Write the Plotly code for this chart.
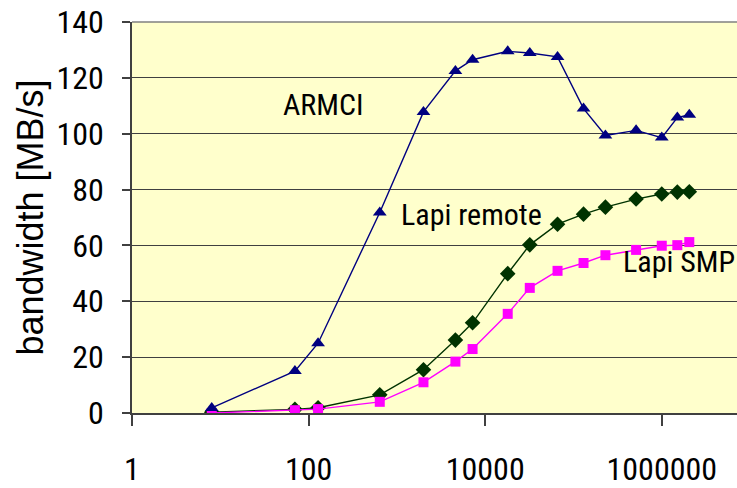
import plotly.graph_objects as go

# Message sizes in bytes (log-scaled x axis)
msg_bytes = [8, 70, 128, 640, 2000, 4600, 7200, 18000, 32000, 66000,
             130000, 230000, 512000, 1000000, 1500000, 2050000]

# Bandwidth in MB/s for each transport
armci = [1.8, 15.0, 25.0, 71.8, 107.8, 122.5, 126.5, 129.5, 128.9, 127.5,
         109.0, 99.4, 101.2, 98.6, 105.8, 106.8]
lapi_remote = [0.3, 1.3, 1.9, 6.5, 15.5, 26.1, 32.3, 49.9, 60.2, 67.6,
               71.2, 73.7, 76.6, 78.4, 79.1, 79.2]
lapi_smp = [0.0, 1.0, 1.4, 4.0, 11.0, 18.4, 22.9, 35.5, 44.8, 50.9,
            53.7, 56.5, 58.4, 59.9, 60.1, 61.2]

y_ticks = [0, 20, 40, 60, 80, 100, 120, 140]
x_tick_vals = [1, 100, 10000, 1000000]
x_tick_text = ["1", "100", "10000", "1000000"]

NARROW = "Roboto Condensed, Liberation Sans, sans-serif"
WIDE = "Liberation Sans, Arial, sans-serif"

fig = go.Figure()

fig.add_trace(go.Scatter(
    x=msg_bytes, y=lapi_remote, mode="lines+markers", name="Lapi remote",
    line=dict(color="#003300", width=1.4),
    marker=dict(symbol="diamond", size=12, color="#003300"),
))
fig.add_trace(go.Scatter(
    x=msg_bytes, y=lapi_smp, mode="lines+markers", name="Lapi SMP",
    line=dict(color="#FF00FF", width=1.4),
    marker=dict(symbol="square", size=10, color="#FF00FF"),
))
fig.add_trace(go.Scatter(
    x=msg_bytes, y=armci, mode="lines+markers", name="ARMCI",
    line=dict(color="#000080", width=1.4),
    marker=dict(symbol="triangle-up", size=12, color="#000080"),
))

# Series labels placed inside the plot
labels = [
    ("ARMCI", 2.161, 110.5),
    ("Lapi remote", 3.847, 71.0),
    ("Lapi SMP", 6.19, 54.2),
]
for text, lx, ly in labels:
    fig.add_annotation(x=lx, y=ly, xref="x", yref="y", text=text,
                       showarrow=False, xanchor="center", yanchor="middle",
                       font=dict(family=NARROW, size=30, color="black"))

# Grey frame line along the top of the plot area
fig.add_shape(type="line", xref="paper", yref="paper", x0=0, x1=1, y0=1, y1=1,
              line=dict(color="#808080", width=1.5))

fig.update_layout(
    width=737, height=488,
    margin=dict(l=131.6, r=0, t=22, b=71, pad=0),
    paper_bgcolor="white",
    plot_bgcolor="#FFFFCC",
    showlegend=False,
    xaxis=dict(
        type="log", range=[0, 6.852],
        tickvals=x_tick_vals, ticktext=x_tick_text,
        ticks="outside", ticklen=11, tickwidth=1.5, tickcolor="#404040",
        showgrid=False, zeroline=False,
        showline=True, linecolor="#404040", linewidth=1.5,
        tickfont=dict(family=NARROW, size=32, color="black"),
        ticklabelstandoff=16,
    ),
    yaxis=dict(
        range=[0, 140], tickvals=y_ticks,
        ticks="outside", ticklen=8, tickwidth=1.5, tickcolor="#404040",
        showgrid=True, gridcolor="#404040", gridwidth=1,
        zeroline=False,
        showline=True, linecolor="#404040", linewidth=1.5,
        tickfont=dict(family=NARROW, size=32, color="black"),
        ticklabelstandoff=12,
        title=dict(text="bandwidth [MB/s]", standoff=2,
                   font=dict(family=WIDE, size=36, color="black")),
    ),
)

fig.write_html("out.html")
